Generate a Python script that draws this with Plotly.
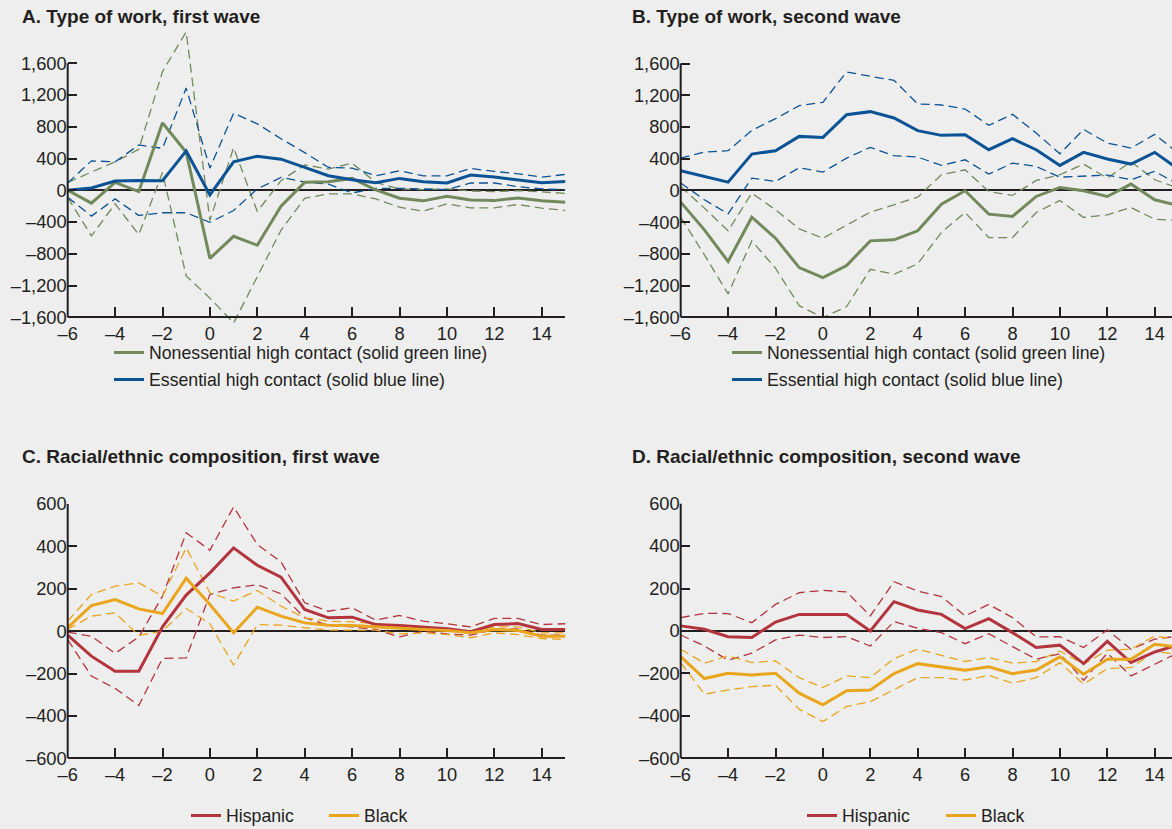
import plotly.graph_objects as go

W, H = 1172, 829

# ---------------- data ----------------
periods = list(range(-6, 16))

x_tickvals = [-6, -4, -2, 0, 2, 4, 6, 8, 10, 12, 14]
x_ticktext = ["–6", "–4", "–2", "0", "2", "4", "6", "8", "10", "12", "14"]
work_tickvals = [-1600, -1200, -800, -400, 0, 400, 800, 1200, 1600]
work_ticktext = ["–1,600", "–1,200", "–800", "–400", "0", "400", "800", "1,200", "1,600"]
race_tickvals = [-600, -400, -200, 0, 200, 400, 600]
race_ticktext = ["–600", "–400", "–200", "0", "200", "400", "600"]

# Panel A: type of work, first wave
a_noness = [0, -162, 100, -17, 850, 480, -858, -580, -692, -200, 100, 108, 150, 4, -100, -133, -75, -121, -130, -96, -133, -150]
a_noness_hi = [100, 225, 358, 517, 1496, 1996, -379, 537, -267, 121, 321, 267, 342, 100, 17, 8, 17, -8, -17, -4, -25, -38]
a_noness_lo = [-90, -575, -171, -558, 225, -1079, -1358, -1671, -1088, -504, -100, -46, -46, -108, -213, -263, -171, -221, -221, -179, -225, -254]
a_ess = [0, 29, 117, 125, 121, 496, -58, 358, 429, 392, 288, 183, 133, 96, 150, 108, 92, 192, 167, 133, 96, 112]
a_ess_hi = [92, 371, 358, 571, 529, 1288, 279, 971, 838, 650, 475, 288, 279, 183, 246, 183, 183, 275, 238, 208, 167, 200]
a_ess_lo = [-88, -325, -108, -317, -283, -283, -404, -254, 17, 163, 104, 79, -33, 25, 25, 17, 8, 92, 92, 46, 17, 8]

# Panel B: type of work, second wave
b_noness = [-147, -497, -897, -337, -602, -973, -1099, -947, -636, -623, -509, -173, -4, -299, -328, -76, 38, -4, -76, 80, -118, -190]
b_noness_hi = [50, -223, -509, -34, -244, -484, -602, -433, -273, -181, -84, 198, 261, -13, -63, 126, 198, 333, 156, 362, 135, 29]
b_noness_lo = [-337, -812, -1305, -636, -981, -1453, -1604, -1465, -994, -1057, -926, -530, -278, -594, -594, -278, -126, -341, -307, -215, -362, -380]
b_ess = [248, 177, 105, 459, 501, 682, 669, 956, 994, 914, 754, 695, 703, 514, 653, 514, 316, 480, 396, 333, 480, 270]
b_ess_hi = [408, 484, 501, 758, 905, 1069, 1112, 1495, 1440, 1390, 1091, 1078, 1027, 821, 960, 724, 463, 770, 598, 535, 707, 470]
b_ess_lo = [93, -118, -295, 156, 114, 286, 232, 408, 543, 438, 421, 316, 387, 206, 345, 303, 168, 185, 194, 135, 240, 80]

# Panel C: racial/ethnic composition, first wave
c_hisp = [-19, -118, -189, -189, 20, 170, 275, 393, 311, 255, 102, 63, 66, 31, 27, 20, 11, -3, 31, 36, 8, 8]
c_hisp_hi = [-5, -24, -105, -27, 165, 464, 382, 586, 409, 327, 134, 94, 110, 52, 74, 47, 35, 20, 60, 60, 31, 35]
c_hisp_lo = [-40, -212, -270, -351, -129, -126, 173, 204, 219, 176, 63, 28, 20, 8, -27, 0, -13, -19, 8, 11, -19, -19]
c_black = [16, 121, 149, 105, 83, 250, 126, -8, 113, 71, 39, 28, 27, 20, 13, 8, 3, -8, 8, 3, -24, -24]
c_black_hi = [47, 173, 212, 228, 165, 393, 181, 142, 192, 118, 63, 47, 44, 36, 28, 16, 5, 0, 20, 20, -8, -8]
c_black_lo = [8, 71, 86, -20, 0, 107, 35, -161, 31, 28, 16, 5, 5, 5, -13, -8, -16, -31, -8, -16, -35, -39]

# Panel D: racial/ethnic composition, second wave
d_hisp = [24, 8, -27, -31, 42, 78, 78, 77, 0, 138, 99, 78, 11, 58, -8, -78, -67, -154, -49, -149, -99, -65]
d_hisp_hi = [63, 83, 82, 39, 125, 180, 191, 184, 71, 232, 188, 162, 71, 125, 63, -28, -27, -78, 5, -86, -39, -24]
d_hisp_lo = [-19, -71, -138, -105, -42, -20, -31, -27, -71, 44, 13, -8, -60, -13, -74, -133, -107, -232, -105, -212, -157, -102]
d_black = [-121, -224, -199, -207, -199, -293, -348, -282, -278, -201, -154, -169, -185, -169, -201, -184, -122, -204, -133, -133, -63, -75]
d_black_hi = [-86, -152, -118, -149, -141, -220, -267, -212, -220, -130, -86, -115, -144, -125, -152, -144, -94, -157, -91, -86, -24, -39]
d_black_lo = [-149, -298, -278, -262, -256, -369, -427, -356, -333, -275, -220, -220, -231, -209, -246, -220, -149, -251, -177, -173, -97, -110]

titles = ["A. Type of work, first wave", "B. Type of work, second wave",
          "C. Racial/ethnic composition, first wave", "D. Racial/ethnic composition, second wave"]
work_names = ["Nonessential high contact (solid green line)", "Essential high contact (solid blue line)"]
race_names = ["Hispanic", "Black"]

# ---------------- style ----------------
GREEN = "#71895B"
BLUE = "#0B5394"
RED = "#B3343C"
GOLD = "#E9A51C"
INK = "#231F20"
BG = "#EEEEEE"
FONT = "Liberation Sans, Arial, Helvetica, sans-serif"
TICK_SIZE = 18.3
LEG_SIZE = 17.7
TITLE_SIZE = 19


def fx(p):
    return p / W


def fy(p):
    return 1 - p / H


# layout of each panel in pixels
panels = [
    dict(x_px=(67.7, 565.4), xrange=[-6, 15], ytick_px=(63.3, 317.3), ylim=1600, yrange=[-1760, 2060],
         tv=work_tickvals, tt=work_ticktext, title_px=(20, 17)),
    dict(x_px=(680.7, 1172), xrange=[-6, 14.73], ytick_px=(63.6, 317.3), ylim=1600, yrange=[-1760, 2060],
         tv=work_tickvals, tt=work_ticktext, title_px=(630, 17)),
    dict(x_px=(67.7, 565.4), xrange=[-6, 15], ytick_px=(504.0, 758.3), ylim=600, yrange=[-600, 600],
         tv=race_tickvals, tt=race_ticktext, title_px=(20, 457)),
    dict(x_px=(680.7, 1172), xrange=[-6, 14.73], ytick_px=(503.6, 758.3), ylim=600, yrange=[-600, 600],
         tv=race_tickvals, tt=race_ticktext, title_px=(630, 457)),
]

series = [
    [(a_noness, a_noness_lo, a_noness_hi, GREEN, work_names[0]), (a_ess, a_ess_lo, a_ess_hi, BLUE, work_names[1])],
    [(b_noness, b_noness_lo, b_noness_hi, GREEN, work_names[0]), (b_ess, b_ess_lo, b_ess_hi, BLUE, work_names[1])],
    [(c_hisp, c_hisp_lo, c_hisp_hi, RED, race_names[0]), (c_black, c_black_lo, c_black_hi, GOLD, race_names[1])],
    [(d_hisp, d_hisp_lo, d_hisp_hi, RED, race_names[0]), (d_black, d_black_lo, d_black_hi, GOLD, race_names[1])],
]

# legend positions (px): left of the legend box, row centre
legend_pos = [
    (109, 353), (109, 380),
    (727, 353), (727, 380),
    (186, 816), (324, 816),
    (802, 816), (941, 816),
]

fig = go.Figure()
layout = dict(
    template="none",
    width=W, height=H, margin=dict(l=0, r=0, t=0, b=0, autoexpand=False),
    paper_bgcolor=BG, plot_bgcolor=BG,
    font=dict(family=FONT, color=INK, size=TICK_SIZE),
    annotations=[], shapes=[], hovermode=False,
)

leg_i = 0
for i, (pan, ser) in enumerate(zip(panels, series)):
    n = "" if i == 0 else str(i + 1)
    xa, ya = "x" + n, "y" + n
    ptop, pbot = pan["ytick_px"]
    k = (pbot - ptop) / (2 * pan["ylim"])

    def ypx(v, ptop=ptop, k=k, lim=pan["ylim"]):
        return ptop + (lim - v) * k

    y_dom = [fy(ypx(pan["yrange"][0])), fy(ypx(pan["yrange"][1]))]
    layout["xaxis" + n] = dict(
        domain=[fx(pan["x_px"][0]), min(1.0, fx(pan["x_px"][1]))], range=pan["xrange"],
        anchor="free", position=fy(ypx(-pan["ylim"])), automargin=False,
        showline=True, linecolor=INK, linewidth=2,
        ticks="inside", ticklen=9, tickwidth=2, tickcolor=INK,
        tickvals=x_tickvals, ticktext=x_ticktext, tickfont=dict(size=TICK_SIZE, color=INK),
        showgrid=False, zeroline=False,
    )
    layout["yaxis" + n] = dict(
        domain=y_dom, range=pan["yrange"], anchor=xa, automargin=False,
        showline=False, ticks="inside", ticklen=9, tickwidth=2, tickcolor=INK,
        tickvals=pan["tv"], ticktext=pan["tt"], tickfont=dict(size=TICK_SIZE, color=INK),
        showgrid=False, zeroline=True, zerolinecolor=INK, zerolinewidth=2,
    )
    layout["shapes"].append(dict(type="line", xref=xa + " domain", yref=ya, x0=0, x1=0,
                                 y0=-pan["ylim"], y1=pan["ylim"], line=dict(color=INK, width=2), layer="above"))
    layout["annotations"].append(dict(text=titles[i], xref="paper", yref="paper",
                                      x=fx(pan["title_px"][0]), y=fy(pan["title_px"][1]),
                                      xanchor="left", yanchor="middle", showarrow=False,
                                      font=dict(family=FONT, size=TITLE_SIZE, color=INK, weight="bold")))
    # dashed bands first
    for mid, lo, hi, col, name in ser:
        for arr in (lo, hi):
            fig.add_trace(go.Scatter(x=periods, y=arr, mode="lines", xaxis=xa, yaxis=ya,
                                     line=dict(color=col, width=1.3, dash="9px,5px"),
                                     showlegend=False, hoverinfo="skip"))
    for mid, lo, hi, col, name in ser:
        lname = "legend" if leg_i == 0 else "legend" + str(leg_i + 1)
        fig.add_trace(go.Scatter(x=periods, y=mid, mode="lines", xaxis=xa, yaxis=ya, name=name,
                                 line=dict(color=col, width=3), showlegend=True, legend=lname))
        lx, ly = legend_pos[leg_i]
        layout[lname] = dict(x=fx(lx), y=fy(ly), xanchor="left", yanchor="middle",
                             xref="container", yref="container",
                             bgcolor="rgba(0,0,0,0)", borderwidth=0,
                             font=dict(family=FONT, size=LEG_SIZE, color=INK))
        leg_i += 1

fig.update_layout(**layout)
fig.write_html("out.html", config={"displayModeBar": False, "staticPlot": True},
               post_script="document.body.style.margin='0px';document.body.style.overflow='hidden';")
